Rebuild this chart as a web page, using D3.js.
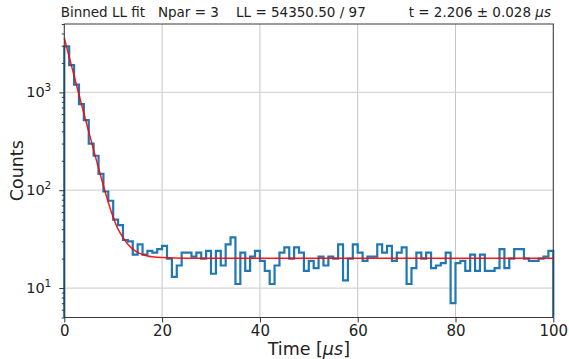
<!DOCTYPE html>
<html>
<head>
<meta charset="utf-8">
<script src="https://cdn.jsdelivr.net/npm/d3@7"></script>
<style>
  body { margin: 0; background: #fff; }
  text { font-family: "DejaVu Sans", sans-serif; fill: #222; }
</style>
</head>
<body>
<div id="chart"></div>
<script>
// Binned decay histogram with LL fit

// counts per 1 us bin, 0..100 us
const binCounts = [
  2950, 1900, 1200, 760, 520, 300, 225, 147, 97, 78,
  50, 44, 31, 30, 22, 28, 22, 24, 23, 25,
  27, 20, 13, 17, 23, 23, 21, 23, 20, 24,
  14, 24, 17, 28, 33, 11, 23, 15, 21, 24,
  19, 15, 11, 17, 23, 26, 20, 26, 23, 15,
  19, 16, 21, 17, 21, 20, 28, 12, 20, 28,
  23, 19, 21, 21, 28, 23, 27, 19, 23, 26,
  11, 16, 23, 20, 23, 16, 17, 18, 23, 7,
  18, 19, 15, 22, 15, 22, 15, 15, 16, 25,
  16, 20, 25, 25, 20, 19, 19, 20, 21, 24
];
const binWidth = 1;

// fitted curve
const fitTimes = [0, 1, 2, 3, 4, 5, 6, 7, 8, 9, 10, 11, 12, 13, 14, 15, 16, 17, 18, 20, 25, 100];
const fitCounts = [3600, 2300, 1480, 950, 612, 396, 257, 168, 111, 75, 53, 40, 33, 28, 25, 23.2, 22, 21.3, 20.9, 20.5, 20.2, 20.2];

const xTicks = [0, 20, 40, 60, 80, 100];
const yTicks = [10, 100, 1000];
const yTickExponents = ['1', '2', '3'];

const titleParts = ['Binned LL fit   Npar = 3    LL = 54350.50 / 97          t = 2.206 \u00b1 0.028 ', '\u03bc', 's'];

class DecayFitChart {
  constructor() {
    this.width = 569;
    this.height = 359;
    this.margin = { left: 64.3, right: 553.3, top: 24, bottom: 317.5 };
    this.draw();
  }

  draw() {
    const m = this.margin;
    const svg = d3.select('#chart').append('svg')
      .attr('width', this.width)
      .attr('height', this.height);

    const x = d3.scaleLinear().domain([0, 100]).range([m.left, m.right]);
    const y = d3.scaleLog().domain([5, 5000]).range([m.bottom, m.top]);

    // grid
    svg.append('g').selectAll('line')
      .data(xTicks)
      .join('line')
      .attr('x1', d => x(d)).attr('x2', d => x(d))
      .attr('y1', m.top).attr('y2', m.bottom)
      .attr('stroke', '#c6c6c6').attr('stroke-width', 1);

    svg.append('g').selectAll('line')
      .data(yTicks)
      .join('line')
      .attr('x1', m.left).attr('x2', m.right)
      .attr('y1', d => y(d)).attr('y2', d => y(d))
      .attr('stroke', '#d6d6d6').attr('stroke-width', 1.2);

    svg.append('clipPath').attr('id', 'plot-clip')
      .append('rect')
      .attr('x', m.left - 2).attr('y', m.top)
      .attr('width', m.right - m.left + 4).attr('height', m.bottom - m.top);

    // histogram as a step outline
    const steps = [[0, y.domain()[0]]];
    binCounts.forEach((c, i) => steps.push([i * binWidth, c]));
    steps.push([binCounts.length * binWidth, binCounts[binCounts.length - 1]]);
    steps.push([binCounts.length * binWidth, y.domain()[0]]);

    const stepLine = d3.line()
      .x(d => x(d[0]))
      .y(d => y(d[1]))
      .curve(d3.curveStepAfter);

    svg.append('path')
      .attr('clip-path', 'url(#plot-clip)')
      .attr('d', stepLine(steps))
      .attr('fill', 'none')
      .attr('stroke', '#1f77b4')
      .attr('stroke-width', 2.2);

    // fit curve
    const fitLine = d3.line()
      .x((d, i) => x(fitTimes[i]))
      .y(d => y(d))
      .curve(d3.curveMonotoneX);

    svg.append('path')
      .attr('clip-path', 'url(#plot-clip)')
      .attr('d', fitLine(fitCounts))
      .attr('fill', 'none')
      .attr('stroke', '#ff0000')
      .attr('stroke-opacity', 0.9)
      .attr('stroke-width', 1.5);

    // frame
    svg.append('rect')
      .attr('x', m.left).attr('y', m.top)
      .attr('width', m.right - m.left).attr('height', m.bottom - m.top)
      .attr('fill', 'none')
      .attr('stroke', '#3a3a3a')
      .attr('stroke-width', 1);

    // x axis
    const xAxis = svg.append('g')
      .attr('transform', `translate(0,${m.bottom})`)
      .call(d3.axisBottom(x).tickValues(xTicks).tickSize(5).tickPadding(3).tickSizeOuter(0));
    xAxis.select('.domain').remove();
    xAxis.selectAll('line').attr('stroke', '#333');
    xAxis.selectAll('text')
      .attr('font-size', 15)
      .attr('fill', '#222');

    // y axis, minor ticks
    const minorTicks = [];
    [1, 10, 100, 1000].forEach(p => {
      for (let k = 2; k <= 9; k++) {
        const v = k * p;
        if (v >= 5 && v <= 5000) minorTicks.push(v);
      }
    });
    const yMinor = svg.append('g')
      .attr('transform', `translate(${m.left},0)`)
      .call(d3.axisLeft(y).tickValues(minorTicks).tickSize(2.5).tickFormat(''));
    yMinor.select('.domain').remove();
    yMinor.selectAll('line').attr('stroke', '#333');

    const yAxis = svg.append('g')
      .attr('transform', `translate(${m.left},0)`)
      .call(d3.axisLeft(y).tickValues(yTicks).tickSize(5).tickPadding(4).tickFormat(''));
    yAxis.select('.domain').remove();
    yAxis.selectAll('line').attr('stroke', '#333');

    const yLabels = svg.append('g').selectAll('text')
      .data(yTicks)
      .join('text')
      .attr('x', m.left - 13)
      .attr('y', d => y(d) + 5)
      .attr('text-anchor', 'end')
      .attr('font-size', 14.5);
    yLabels.append('tspan').text('10');
    yLabels.append('tspan')
      .attr('dy', -6)
      .attr('font-size', 10.5)
      .text((d, i) => yTickExponents[i]);

    // axis titles
    svg.append('text')
      .attr('transform', `translate(23,${(m.top + m.bottom) / 2}) rotate(-90)`)
      .attr('text-anchor', 'middle')
      .attr('font-size', 17.5)
      .text('Counts');

    const xLabel = svg.append('text')
      .attr('x', (m.left + m.right) / 2)
      .attr('y', 355)
      .attr('text-anchor', 'middle')
      .attr('font-size', 17.5);
    xLabel.append('tspan').text('Time [');
    xLabel.append('tspan').attr('font-style', 'italic').text('\u03bc');
    xLabel.append('tspan').attr('font-style', 'italic').text('s');
    xLabel.append('tspan').text(']');

    // title
    const title = svg.append('text')
      .attr('x', (m.left + m.right) / 2 - 3)
      .attr('y', 16.5)
      .attr('text-anchor', 'middle')
      .attr('font-size', 13.5)
      .style('white-space', 'pre');
    title.append('tspan').text(titleParts[0]);
    title.append('tspan').attr('font-style', 'italic').text(titleParts[1]);
    title.append('tspan').attr('font-style', 'italic').text(titleParts[2]);
  }
}

document.addEventListener('DOMContentLoaded', () => {
  new DecayFitChart();
});
</script>
</body>
</html>
